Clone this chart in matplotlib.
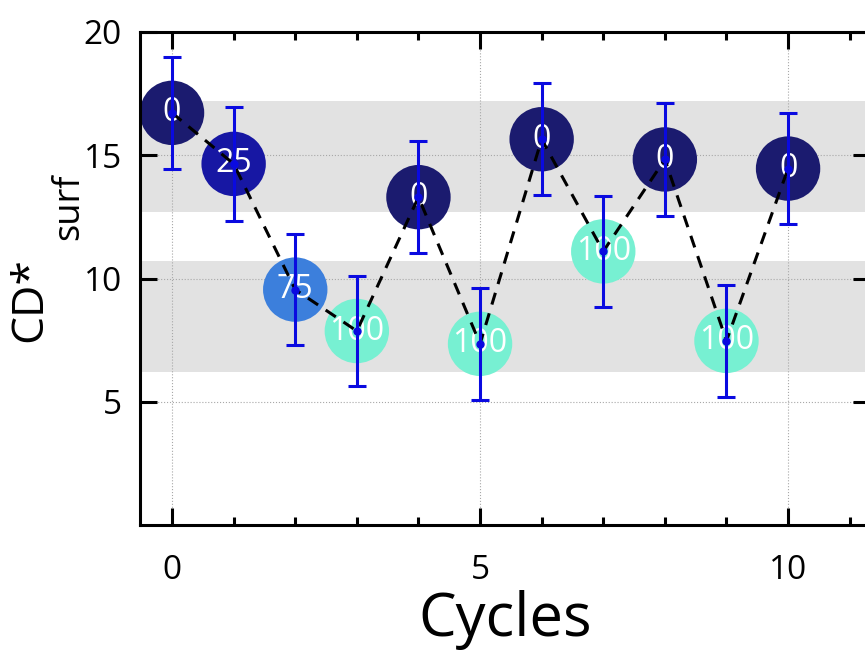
import matplotlib
matplotlib.use("Agg")
import matplotlib.pyplot as plt
from matplotlib.ticker import MultipleLocator

# values
cycles = [0, 1, 2, 3, 4, 5, 6, 7, 8, 9, 10]
cd_surf = [16.72, 14.65, 9.55, 7.87, 13.30, 7.35, 15.65, 11.10, 14.83, 7.47, 14.46]
cd_err = [2.28, 2.30, 2.25, 2.24, 2.27, 2.26, 2.27, 2.25, 2.30, 2.26, 2.25]
point_labels = ["0", "25", "75", "100", "0", "100", "0", "100", "0", "100", "0"]
label_colors = {"0": "#1b1b6f", "25": "#1717a3", "75": "#3c7fdc", "100": "#77f0d2"}
bands = [(6.2, 10.7), (12.7, 17.2)]

plt.rcParams["font.family"] = ["Open Sans", "DejaVu Sans"]

fig = plt.figure(figsize=(8.65, 6.55), dpi=100)
ax = fig.add_axes([140 / 865, 130 / 655, 730 / 865, 493 / 655])

for lo, hi in bands:
    ax.axhspan(lo, hi, color="#e2e2e2", lw=0, zorder=0)

ax.set_axisbelow(True)
ax.grid(True, which="major", ls=":", color="#a8a8a8", lw=0.8)

ax.scatter(cycles, cd_surf, s=2150, c=[label_colors[l] for l in point_labels],
           lw=0, zorder=2)
for x, y, l in zip(cycles, cd_surf, point_labels):
    ax.text(x, y, l, color="white", ha="center", va="center", fontsize=23, zorder=3)

ax.plot(cycles, cd_surf, ls=(0, (4, 3)), color="black", lw=2.2, zorder=4)
ax.errorbar(cycles, cd_surf, yerr=cd_err, fmt="o", ms=5, color="#0a0ae0",
            elinewidth=2.2, capsize=6.5, capthick=2.2, zorder=5)

ax.set_xlim(-0.52, 11.33)
ax.set_ylim(0, 20)
ax.set_xticks([0, 5, 10])
ax.set_yticks([5, 10, 15, 20])
ax.xaxis.set_minor_locator(MultipleLocator(1))

for s in ax.spines.values():
    s.set_linewidth(2.2)
ax.tick_params(which="both", direction="in", top=True, right=True, width=2.2)
ax.tick_params(which="major", length=12, labelsize=24)
ax.tick_params(which="minor", length=6)
ax.tick_params(axis="x", pad=21)
ax.tick_params(axis="y", pad=13)

ax.set_xlabel("Cycles", fontsize=43, labelpad=2)

# y label: CD* with a large lowered "surf"
fig.text(41 / 865, 1 - 342 / 655, "CD*", rotation=90, rotation_mode="anchor",
         ha="left", va="baseline", fontsize=32)
fig.text(78 / 865, 1 - 240 / 655, "surf", rotation=90, rotation_mode="anchor",
         ha="left", va="baseline", fontsize=26)

fig.savefig("out.png", dpi=100)
